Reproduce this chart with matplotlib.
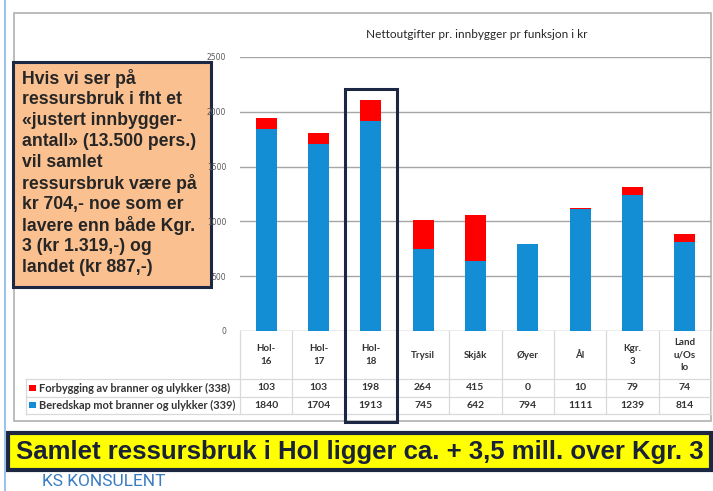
import matplotlib
matplotlib.use("Agg")
import matplotlib.pyplot as plt
from matplotlib.patches import Rectangle
from matplotlib.transforms import blended_transform_factory

# data
categories = ["Hol-\n16", "Hol-\n17", "Hol-\n18", "Trysil", "Skjåk", "Øyer", "Ål", "Kgr.\n3", "Land\nu/Os\nlo"]
beredskap = [1840, 1704, 1913, 745, 642, 794, 1111, 1239, 814]
forbygging = [103, 103, 198, 264, 415, 0, 10, 79, 74]
series_names = ["Forbygging av branner og ulykker (338)", "Beredskap mot branner og ulykker (339)"]
yticks = [0, 500, 1000, 1500, 2000, 2500]

chart_title = "Nettoutgifter pr. innbygger pr funksjon i kr"
note_lines = ["Hvis vi ser på", "ressursbruk i fht et", "«justert innbygger-",
              "antall» (13.500 pers.)", "vil samlet", "ressursbruk være på",
              "kr 704,- noe som er", "lavere enn både Kgr.", "3 (kr 1.319,-) og",
              "landet (kr 887,-)"]
banner = "Samlet ressursbruk i Hol ligger ca. + 3,5 mill. over Kgr. 3"

BLUE = "#138ed4"
RED = "#ff0000"
NAVY = "#1c2744"
W, H = 713, 491

fig = plt.figure(figsize=(W / 100, H / 100), dpi=100)

# overlay in pixel coordinates for the slide decorations
over = fig.add_axes([0, 0, 1, 1], zorder=0)
over.set_xlim(0, W)
over.set_ylim(H, 0)
over.axis("off")

# slide border + chart frame
over.plot([5, 5], [0, H], color="#9dc3e6", lw=1.5)
over.add_patch(Rectangle((14, 13), 697, 408, fill=False, ec="#b0b0b0", lw=1.2))

# chart axes
ax_top, ax_bot = 57, 331
ax = fig.add_axes([240 / W, (H - ax_bot) / H, 471 / W, (ax_bot - ax_top) / H], zorder=2)
ax.patch.set_alpha(0)
x = list(range(len(categories)))
ax.bar(x, beredskap, width=0.4, color=BLUE, zorder=3)
ax.bar(x, forbygging, width=0.4, bottom=beredskap, color=RED, zorder=3)
ax.set_xlim(-0.5, len(categories) - 0.5)
ax.set_ylim(0, 2500)
ax.set_yticks(yticks)
ax.set_xticks([])
ax.yaxis.grid(True, color="#a6a6a6", lw=1)
ax.set_axisbelow(True)
for s in ax.spines.values():
    s.set_visible(False)
ax.tick_params(axis="y", length=0, pad=10, labelsize=5.5, labelcolor="#595959")

fig.text(477 / W, 1 - 34 / H, chart_title, ha="center", va="center",
         fontsize=8.5, family="Lato", color="#262626")

# data table under the chart
tr = blended_transform_factory(ax.transData, over.transData)
row_y = [388, 405]
row_lines = [379, 397, 414]
for yl in row_lines:
    over.plot([26, 711], [yl, yl], color="#d9d9d9", lw=0.9)
over.plot([26, 26], [379, 414], color="#d9d9d9", lw=0.9)
for k in range(len(categories) + 1):
    ax.plot([k - 0.5, k - 0.5], [331, 414], color="#d9d9d9", lw=0.9,
            transform=tr, clip_on=False)

for i, lab in enumerate(categories):
    ax.text(i, 355, lab, transform=tr, ha="center", va="center", fontsize=7,
            family="Lato", fontweight="bold", color="#333333", linespacing=1.45)
    ax.text(i, row_y[0], str(forbygging[i]), transform=tr, ha="center", va="center",
            fontsize=7.5, family="Lato", fontweight="bold", color="#333333")
    ax.text(i, row_y[1], str(beredskap[i]), transform=tr, ha="center", va="center",
            fontsize=7.5, family="Lato", fontweight="bold", color="#333333")

for name, col, yy in zip(series_names, [RED, BLUE], row_y):
    over.add_patch(Rectangle((29, yy - 3.5), 6.5, 6.5, color=col, lw=0))
    over.text(39, yy, name, ha="left", va="center", fontsize=7.9, family="Lato",
              fontweight="bold", color="#333333")

# highlight around Hol-18
hi = categories.index("Hol-\n18")
ax.add_patch(Rectangle((hi - 0.5, 89), 1.0, 333, transform=tr, fill=False,
                       ec=NAVY, lw=2.2, clip_on=False, zorder=5))

# orange note box
over.add_patch(Rectangle((13, 62), 198, 225, fc="#fac090", ec=NAVY, lw=2.2))
for j, line in enumerate(note_lines):
    over.text(22, 78.5 + j * 21, line, ha="left", va="center", fontsize=12.7,
              family="Liberation Sans", fontweight="bold", color="#262626")

# yellow banner
over.add_patch(Rectangle((8, 433), 703, 37, fc="#ffff00", ec=NAVY, lw=3))
over.text(360, 452, banner, ha="center", va="center", fontsize=18.5,
          family="Liberation Sans", fontweight="bold", color="#1a2238")

over.text(42, 474, "KS KONSULENT", ha="left", va="top", fontsize=12.5,
          family="Roboto", color="#3a7cc0", clip_on=False)

fig.savefig("out.png", dpi=100)
